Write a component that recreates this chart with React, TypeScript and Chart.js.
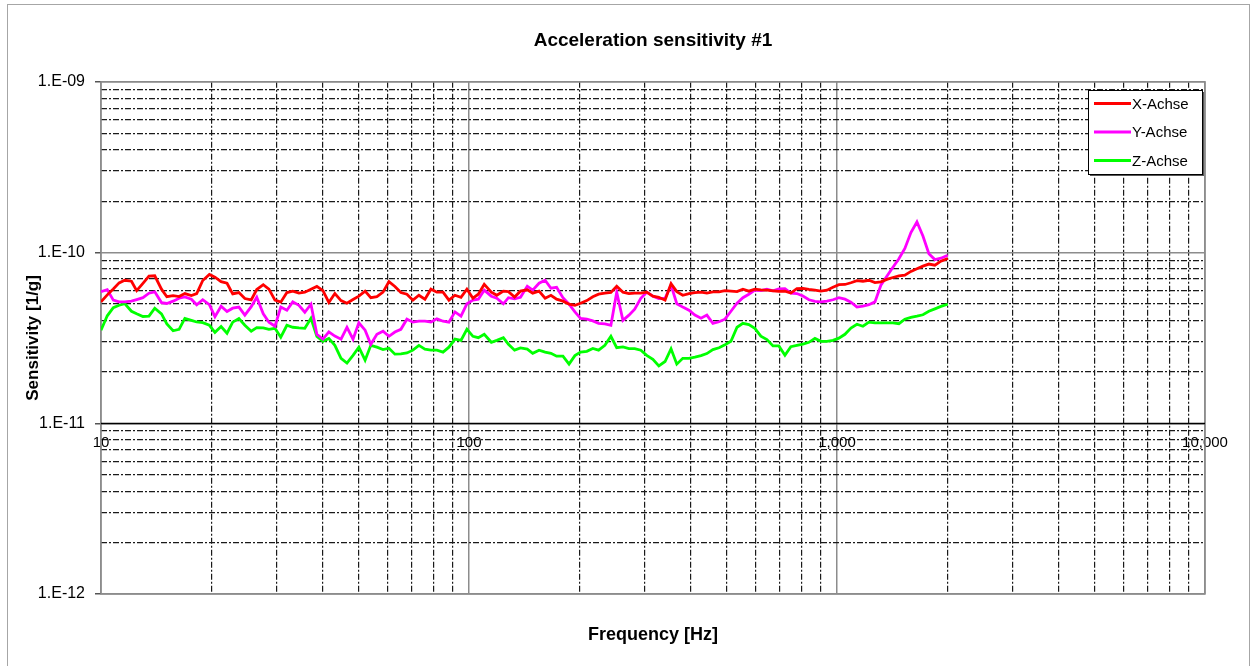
import React, { useEffect, useRef } from 'react';
import { Chart, registerables } from 'chart.js';

Chart.register(...registerables);

const FONT = '"Liberation Sans", Arial, Helvetica, sans-serif';

const CHART_TITLE = 'Acceleration sensitivity #1';
const X_TITLE = 'Frequency [Hz]';
const Y_TITLE = 'Sensitivity [1/g]';
const SERIES_LABELS = ['X-Achse', 'Y-Achse', 'Z-Achse'];
const SERIES_COLORS = ['#ff0000', '#ff00ff', '#00ff00'];
const X_TICK_LABELS = ['10', '100', '1,000', '10,000'];
const Y_TICK_LABELS = ['1.E-12', '1.E-11', '1.E-10', '1.E-09'];

// Series values below are given in units of 1e-11 [1/g]
const VALUE_UNIT = 1e-11;

const frequencies = [
  10, 10.4, 10.8, 11.2, 11.6, 12.1, 12.5, 13.0, 13.5, 14.0,
  14.6, 15.1, 15.7, 16.3, 16.9, 17.6, 18.2, 18.9, 19.7, 20.4,
  21.2, 22.0, 22.8, 23.7, 24.6, 25.6, 26.5, 27.6, 28.6, 29.7,
  30.8, 32.0, 33.2, 34.5, 35.8, 37.2, 38.6, 40.1, 41.6, 43.2,
  44.9, 46.6, 48.4, 50.2, 52.2, 54.1, 56.2, 58.4, 60.6, 62.9,
  65.3, 67.8, 70.4, 73.1, 75.9, 78.8, 81.8, 85.0, 88.2, 91.6,
  95.1, 98.7, 102.5, 106, 110, 115, 119, 124, 128, 133,
  138, 144, 149, 155, 161, 167, 173, 180, 187, 194,
  201, 209, 217, 225, 234, 243, 252, 262, 272, 282,
  293, 304, 316, 328, 341, 354, 367, 381, 396, 411,
  427, 443, 460, 478, 496, 515, 535, 555, 576, 598,
  621, 645, 670, 695, 722, 749, 778, 808, 839, 871,
  904, 939, 975, 1012, 1051, 1091, 1133, 1176, 1221, 1268,
  1316, 1366, 1419, 1473, 1529, 1588, 1649, 1712, 1777, 1845,
  1916, 2000,
];

const xAchse = [
  5.14, 5.65, 6.12, 6.64, 6.88, 6.79, 5.98, 6.60, 7.27, 7.31,
  6.10, 5.51, 5.59, 5.52, 5.75, 5.60, 5.75, 6.86, 7.44, 7.17,
  6.75, 6.61, 5.72, 5.83, 5.38, 5.28, 6.07, 6.48, 6.10, 5.26,
  5.12, 5.83, 5.94, 5.78, 5.86, 6.10, 6.33, 5.98, 5.10, 5.75,
  5.23, 5.05, 5.31, 5.55, 5.94, 5.44, 5.51, 5.86, 6.76, 6.33,
  5.83, 5.70, 5.26, 5.62, 5.33, 6.10, 5.86, 5.86, 5.26, 5.62,
  5.47, 6.10, 5.40, 5.70, 6.52, 5.86, 5.62, 5.94, 5.90, 5.49,
  5.94, 6.05, 5.78, 5.94, 5.40, 5.62, 5.33, 5.19, 4.98, 4.91,
  5.05, 5.23, 5.51, 5.70, 5.78, 5.84, 6.35, 5.86, 5.74, 5.78,
  5.79, 5.86, 5.55, 5.47, 5.26, 6.57, 5.90, 5.62, 5.75, 5.83,
  5.86, 5.78, 5.88, 5.88, 5.98, 5.94, 5.90, 6.10, 5.94, 6.10,
  6.05, 6.02, 5.97, 5.92, 5.94, 5.79, 6.14, 6.16, 6.08, 6.03,
  5.94, 6.02, 6.26, 6.48, 6.50, 6.65, 6.84, 6.79, 6.88, 6.67,
  6.73, 6.96, 7.14, 7.29, 7.36, 7.75, 8.04, 8.32, 8.56, 8.43,
  8.90, 9.23,
];

const yAchse = [
  5.89, 6.06, 5.26, 5.14, 5.14, 5.19, 5.30, 5.44, 5.78, 5.89,
  5.09, 5.03, 5.19, 5.40, 5.50, 5.33, 4.94, 5.29, 4.95, 4.21,
  4.85, 4.51, 4.72, 4.79, 4.30, 4.82, 5.47, 4.38, 3.91, 3.70,
  4.79, 4.59, 5.14, 4.91, 4.47, 4.98, 3.32, 3.11, 3.43, 3.24,
  3.11, 3.65, 3.11, 3.88, 3.51, 2.90, 3.32, 3.46, 3.23, 3.42,
  3.55, 4.07, 3.91, 3.96, 3.96, 3.92, 4.09, 3.96, 3.91, 4.49,
  4.24, 5.01, 5.26, 5.33, 6.02, 5.55, 5.40, 5.01, 5.44, 5.35,
  5.47, 6.35, 6.02, 6.61, 6.88, 6.18, 6.26, 5.44, 4.98, 4.49,
  4.11, 4.07, 3.98, 3.85, 3.82, 3.75, 5.86, 4.01, 4.30, 4.66,
  5.40, 5.86, 5.55, 5.37, 5.40, 6.44, 5.01, 4.79, 4.59, 4.30,
  4.12, 4.30, 3.85, 3.93, 4.07, 4.53, 5.05, 5.44, 5.70, 6.02,
  5.98, 6.10, 5.96, 6.12, 6.14, 5.78, 5.75, 5.56, 5.29, 5.17,
  5.14, 5.19, 5.29, 5.44, 5.33, 5.12, 4.79, 4.85, 4.95, 5.14,
  6.44, 7.27, 8.20, 9.19, 10.56, 13.1, 15.1, 12.5, 9.84, 9.09,
  9.26, 9.65,
];

const zAchse = [
  3.51, 4.26, 4.75, 4.91, 5.02, 4.53, 4.38, 4.22, 4.24, 4.72,
  4.37, 3.82, 3.48, 3.55, 4.11, 4.01, 3.92, 3.88, 3.75, 3.41,
  3.69, 3.37, 3.91, 4.11, 3.75, 3.46, 3.63, 3.62, 3.55, 3.60,
  3.19, 3.75, 3.65, 3.62, 3.60, 4.12, 3.23, 3.02, 3.14, 2.86,
  2.40, 2.25, 2.50, 2.79, 2.34, 2.86, 2.79, 2.70, 2.75, 2.54,
  2.55, 2.58, 2.68, 2.86, 2.72, 2.68, 2.68, 2.61, 2.79, 3.11,
  3.06, 3.55, 3.23, 3.17, 3.32, 2.98, 3.06, 3.17, 2.90, 2.68,
  2.76, 2.72, 2.57, 2.68, 2.61, 2.57, 2.47, 2.47, 2.22, 2.49,
  2.61, 2.64, 2.74, 2.68, 2.86, 3.23, 2.77, 2.80, 2.74, 2.74,
  2.68, 2.50, 2.37, 2.17, 2.30, 2.73, 2.22, 2.40, 2.40, 2.44,
  2.49, 2.56, 2.70, 2.77, 2.88, 3.02, 3.65, 3.85, 3.78, 3.60,
  3.24, 3.09, 2.84, 2.84, 2.50, 2.81, 2.86, 2.91, 2.98, 3.14,
  3.02, 3.02, 3.06, 3.15, 3.32, 3.61, 3.80, 3.70, 3.91, 3.87,
  3.87, 3.87, 3.87, 3.83, 4.07, 4.17, 4.24, 4.32, 4.53, 4.68,
  4.84, 4.98,
];

const SERIES = [xAchse, yAchse, zAchse];

const X_MIN = 10;
const X_MAX = 10000;
const Y_MIN = 1e-12;
const Y_MAX = 1e-9;

const isDecade = (v: number) => Math.abs(Math.log10(v) - Math.round(Math.log10(v))) < 1e-6;

function logTickValues(min: number, max: number): number[] {
  const out: number[] = [];
  const e0 = Math.round(Math.log10(min));
  const e1 = Math.round(Math.log10(max));
  for (let e = e0; e < e1; e++) {
    for (let m = 1; m < 10; m++) out.push(m * Math.pow(10, e));
  }
  out.push(Math.pow(10, e1));
  return out;
}

const MAJOR_COLOR = '#8c8c8c';
const MINOR_COLOR = '#1a1a1a';
const MINOR_DASH = [6, 2, 2, 2];

const gridColor = (ctx: any) => (ctx.tick && isDecade(ctx.tick.value) ? MAJOR_COLOR : MINOR_COLOR);
const gridWidth = (ctx: any) => (ctx.tick && isDecade(ctx.tick.value) ? 1.5 : 1.2);
const gridDash = (ctx: any) => (ctx.tick && !isDecade(ctx.tick.value) ? MINOR_DASH : []);

const framePlugin = {
  id: 'frame',
  beforeDraw(chart: any) {
    const { ctx } = chart;
    ctx.save();
    ctx.strokeStyle = '#a6a6a6';
    ctx.lineWidth = 1;
    ctx.strokeRect(7.5, 4.5, 1242, 670);
    ctx.restore();
  },
  beforeDatasetsDraw(chart: any) {
    const { ctx, chartArea, scales } = chart;
    ctx.save();
    ctx.strokeStyle = MAJOR_COLOR;
    ctx.lineWidth = 1.5;
    ctx.strokeRect(chartArea.left, chartArea.top, chartArea.right - chartArea.left, chartArea.bottom - chartArea.top);
    const yAxis = Math.round(scales.y.getPixelForValue(1e-11)) + 0.5;
    ctx.strokeStyle = '#000';
    ctx.lineWidth = 1.5;
    ctx.beginPath();
    ctx.moveTo(chartArea.left, yAxis);
    ctx.lineTo(chartArea.right, yAxis);
    ctx.stroke();
    ctx.restore();
  },
};

const legendPlugin = {
  id: 'boxLegend',
  afterDatasetsDraw(chart: any) {
    const { ctx, chartArea } = chart;
    const w = 114;
    const h = 84;
    const x = Math.round(chartArea.right - 3 - w);
    const y = Math.round(chartArea.top + 8);
    ctx.save();
    ctx.fillStyle = '#555';
    ctx.fillRect(x + 2, y + 2, w, h);
    ctx.fillStyle = '#fff';
    ctx.fillRect(x, y, w, h);
    ctx.strokeStyle = '#000';
    ctx.lineWidth = 1;
    ctx.strokeRect(x + 0.5, y + 0.5, w, h);
    chart.data.datasets.forEach((ds: any, i: number) => {
      const cy = y + 13.5 + i * 28.5;
      ctx.strokeStyle = ds.borderColor;
      ctx.lineWidth = 3;
      ctx.beginPath();
      ctx.moveTo(x + 6, cy);
      ctx.lineTo(x + 43, cy);
      ctx.stroke();
      ctx.fillStyle = '#000';
      ctx.font = `15px ${FONT}`;
      ctx.textBaseline = 'middle';
      ctx.textAlign = 'left';
      ctx.fillText(ds.label, x + 44, cy + 1);
    });
    ctx.restore();
  },
};

export default function App() {
  const canvasRef = useRef<HTMLCanvasElement | null>(null);

  useEffect(() => {
    document.body.style.margin = '0';
    const canvas = canvasRef.current;
    if (!canvas) return;

    const datasets = SERIES.map((values, si) => ({
      label: SERIES_LABELS[si],
      data: frequencies.map((f, i) => ({ x: f, y: values[i] * VALUE_UNIT })),
      borderColor: SERIES_COLORS[si],
      backgroundColor: SERIES_COLORS[si],
      borderWidth: 2.8,
      pointRadius: 0,
      tension: 0,
      fill: false,
      xAxisID: 'x',
      yAxisID: 'y',
    }));

    const chart = new Chart(canvas, {
      type: 'line',
      data: { datasets },
      plugins: [framePlugin, legendPlugin],
      options: {
        responsive: false,
        animation: false,
        events: [],
        layout: { padding: { left: 0, right: 53, top: 0, bottom: 0 } },
        plugins: {
          legend: { display: false },
          tooltip: { enabled: false },
          title: {
            display: true,
            text: CHART_TITLE,
            fullSize: false,
            color: '#000',
            font: { family: FONT, size: 19, weight: 'bold' },
            padding: { top: 29, bottom: 30 },
          },
        },
        scales: {
          x: {
            type: 'logarithmic',
            min: X_MIN,
            max: X_MAX,
            position: { y: 1e-11 },
            afterBuildTicks: (scale: any) => {
              scale.ticks = logTickValues(X_MIN, X_MAX).map((v) => ({ value: v, major: isDecade(v) }));
            },
            ticks: {
              autoSkip: false,
              maxRotation: 0,
              minRotation: 0,
              padding: 11,
              color: '#000',
              font: { family: FONT, size: 15 },
              callback: (v: any) => (isDecade(Number(v)) ? X_TICK_LABELS[Math.round(Math.log10(Number(v))) - 1] : ''),
            },
            grid: { drawTicks: false, color: gridColor, lineWidth: gridWidth },
            border: { display: false, dash: gridDash },
            title: { display: false },
          },
          xTitle: {
            type: 'linear',
            axis: 'x',
            position: 'bottom',
            min: 0,
            max: 1,
            ticks: { display: false },
            grid: { display: false, drawTicks: false },
            border: { display: false },
            title: {
              display: true,
              text: X_TITLE,
              color: '#000',
              font: { family: FONT, size: 18, weight: 'bold' },
              padding: { top: 0, bottom: 20 },
            },
            afterFit: (scale: any) => {
              scale.height = 72;
            },
          },
          y: {
            type: 'logarithmic',
            position: 'left',
            min: Y_MIN,
            max: Y_MAX,
            afterBuildTicks: (scale: any) => {
              scale.ticks = logTickValues(Y_MIN, Y_MAX).map((v) => ({ value: v, major: isDecade(v) }));
            },
            afterFit: (scale: any) => {
              scale.width = 101;
            },
            ticks: {
              autoSkip: false,
              padding: 10,
              color: '#000',
              font: { family: FONT, size: 16 },
              callback: (v: any) => (isDecade(Number(v)) ? Y_TICK_LABELS[Math.round(Math.log10(Number(v))) + 12] : ''),
            },
            grid: {
              drawTicks: true,
              tickLength: 6,
              color: gridColor,
              lineWidth: gridWidth,
              tickColor: (ctx: any) => (ctx.tick && isDecade(ctx.tick.value) ? '#555' : 'rgba(0,0,0,0)'),
              tickWidth: 1.5,
            },
            border: { display: false, dash: gridDash },
            title: {
              display: true,
              text: Y_TITLE,
              color: '#000',
              font: { family: FONT, size: 17, weight: 'bold' },
              padding: { top: 23, bottom: 0 },
            },
          },
        },
      } as any,
    });

    return () => chart.destroy();
  }, []);

  return (
    <div style={{ position: 'relative', width: 1258, height: 666, background: '#fff', overflow: 'hidden' }}>
      <canvas ref={canvasRef} width={1258} height={666} style={{ display: 'block', width: 1258, height: 666 }} />
    </div>
  );
}
